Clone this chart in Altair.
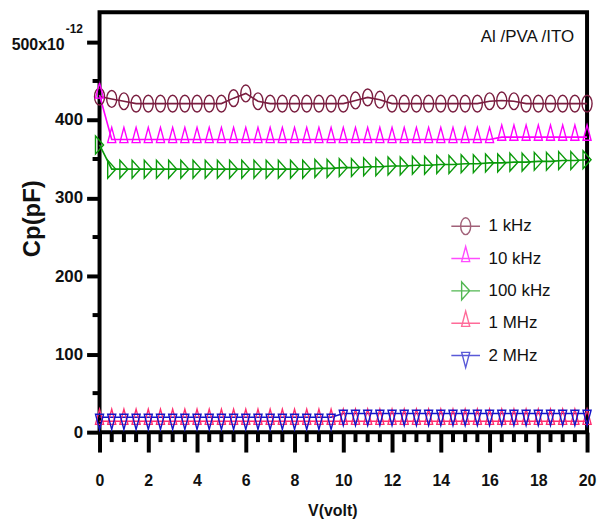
import altair as alt
import pandas as pd

# ---------------- data ----------------
series = ["1 kHz", "10 kHz", "100 kHz", "1 MHz", "2 MHz"]

volts = [0, 0.5, 1, 1.5, 2, 2.5, 3, 3.5, 4, 4.5, 5, 5.5, 6, 6.5, 7, 7.5, 8, 8.5,
         9, 9.5, 10, 10.5, 11, 11.5, 12, 12.5, 13, 13.5, 14, 14.5, 15, 15.5,
         16, 16.5, 17, 17.5, 18, 18.5, 19, 19.5, 20]

cp_1khz = [430, 427, 424, 421, 421, 421, 421, 421, 421, 421, 421, 428, 434, 424,
           421, 421, 421, 421, 421, 421, 421, 425, 429, 426, 421, 421, 421, 421,
           421, 421, 421, 421, 424, 425, 424, 421, 421, 421, 421, 421, 421]
cp_10khz = [432, 375, 375, 375, 375, 375, 375, 375, 375, 375, 375, 375, 375, 375,
            375, 375, 375, 375, 375, 375, 375, 375, 375, 375, 375, 375, 375, 375,
            375, 375, 375, 375, 375, 378, 378, 378, 378, 378, 378, 378, 378]
cp_100khz = [368, 337, 337, 337, 337, 337, 337, 337, 337, 337, 337, 337, 337, 337,
             337, 337, 337, 337, 338, 338, 339, 339, 340, 340, 341, 341, 342, 342,
             343, 343, 344, 344, 345, 345, 346, 346, 347, 347, 348, 348, 349]
cp_1mhz = [14, 14, 14, 14, 14, 14, 14, 14, 14, 14, 14, 14, 14, 14, 14, 14, 14, 14,
           14, 14, 14, 14, 14, 14, 14, 14, 14, 14, 14, 14, 14, 14, 14, 14, 14, 14,
           14, 14, 14, 14, 14]
cp_2mhz = [19, 19, 19, 19, 19, 19, 19, 19, 19, 19, 19, 19, 19, 19, 19, 19, 19, 19,
           19, 19, 24, 24, 24, 24, 24, 24, 24, 24, 24, 24, 24, 24, 24, 24, 24, 24,
           24, 24, 24, 24, 24]

x_major = [0, 2, 4, 6, 8, 10, 12, 14, 16, 18, 20]
x_minor = [0.5, 1, 1.5, 2.5, 3, 3.5, 4.5, 5, 5.5, 6.5, 7, 7.5, 8.5, 9, 9.5,
           10.5, 11, 11.5, 12.5, 13, 13.5, 14.5, 15, 15.5, 16.5, 17, 17.5,
           18.5, 19, 19.5]
y_major = [0, 100, 200, 300, 400, 500]
y_minor = [50, 150, 250, 350, 450]

sample_title = "Al /PVA /ITO"

# ---------------- styling ----------------
colors = ["#7a1e40", "#ff00ff", "#0a9a0a", "#ff2d6f", "#1414c8"]
marker_paths = [
    "M-0.56,0A0.56,0.94,0,1,0,0.56,0A0.56,0.94,0,1,0,-0.56,0Z",
    "M0,-1.35L-0.45,0.35L0.45,0.35Z",
    "M-0.45,-1L0.45,0L-0.45,1Z",
    "M0,-1.35L-0.45,0.35L0.45,0.35Z",
    "M-0.45,-0.35L0.45,-0.35L0,1.35Z",
]
# legend glyph = line through the marker; trailing moves give every glyph the same box
legend_paths = ["M-1.6,0L1.6,0" + p + "M0,-1.4M0,1.4" for p in marker_paths]

FONT = "Liberation Sans, Arial, sans-serif"

rows = []
for s, vals in zip(series, [cp_1khz, cp_10khz, cp_100khz, cp_1mhz, cp_2mhz]):
    for v, c in zip(volts, vals):
        rows.append({"series": s, "V": v, "Cp": c})
df = pd.DataFrame(rows)

W, H = 490, 422

x_enc = alt.X(
    "V:Q",
    scale=alt.Scale(domain=[0, 20], nice=False, zero=False),
    axis=alt.Axis(
        values=x_major, title="V(volt)", grid=False, domain=False,
        tickSize=20, tickWidth=4, tickColor="black",
        labelFont=FONT, labelFontSize=16, labelFontWeight="bold",
        labelColor="#111", labelPadding=21, labelOverlap=False, labelFlush=False,
        titleFont=FONT, titleFontSize=16, titleFontWeight="bold", titleColor="#111",
        titleX=234, titleY=79, titleAlign="center", titleBaseline="middle",
    ),
)
y_enc = alt.Y(
    "Cp:Q",
    scale=alt.Scale(domain=[0, 538], nice=False, zero=False),
    axis=alt.Axis(
        values=y_major, title="Cp(pF)", grid=False, domain=False,
        labelExpr="datum.value == 500 ? '' : datum.label",
        tickSize=13, tickWidth=4, tickColor="black",
        labelFont=FONT, labelFontSize=17, labelFontWeight="bold",
        labelColor="#111", labelPadding=4, labelOverlap=False, labelFlush=False,
        titleFont=FONT, titleFontSize=24,
        titleFontWeight="bold", titleColor="#111",
        titleAngle=270, titleX=-67, titleY=207, titleAlign="center",
        titleBaseline="middle",
    ),
)

color_noleg = alt.Color("series:N", scale=alt.Scale(domain=series, range=colors), legend=None)

base = alt.Chart(df)

lines = base.mark_line(strokeWidth=1.6).encode(
    x=x_enc, y=y_enc, color=color_noleg, detail="series:N"
)

points = base.mark_point(filled=False, size=324, strokeWidth=1.4, opacity=1).encode(
    x=x_enc, y=y_enc, color=color_noleg,
    shape=alt.Shape("series:N", scale=alt.Scale(domain=series, range=marker_paths), legend=None),
)

leg = alt.Legend(title=None, orient="none", legendX=358, legendY=205,
                 symbolSize=324, symbolStrokeWidth=1.4,
                 labelFont=FONT, labelFontSize=17, labelColor="#111",
                 labelOffset=13, rowPadding=0.5, padding=0)

legend_layer = base.transform_filter("false").mark_point(filled=False, size=324, strokeWidth=1.4).encode(
    x=x_enc, y=y_enc,
    color=alt.Color("series:N", scale=alt.Scale(domain=series, range=colors), legend=leg),
    shape=alt.Shape("series:N", scale=alt.Scale(domain=series, range=legend_paths), legend=leg),
)

xminor = alt.Chart(pd.DataFrame({"V": x_minor})).mark_rule(strokeWidth=4, color="black").encode(
    x="V:Q", y=alt.value(H), y2=alt.value(H + 10)
)
yminor = alt.Chart(pd.DataFrame({"Cp": y_minor})).mark_rule(strokeWidth=4, color="black").encode(
    y="Cp:Q", x=alt.value(-7), x2=alt.value(0)
)

exp_df = pd.DataFrame({"Cp": [500], "base": ["500x10"], "exp": ["-12"]})
lab500 = alt.Chart(exp_df).mark_text(
    align="right", baseline="middle", dy=3, font=FONT, fontSize=16, fontWeight="bold", color="#111"
).encode(y="Cp:Q", x=alt.value(-35), text="base:N")
labexp = alt.Chart(exp_df).mark_text(
    align="left", baseline="middle", dy=-13, font=FONT, fontSize=12, fontWeight="bold", color="#111"
).encode(y="Cp:Q", x=alt.value(-34), text="exp:N")

title_txt = alt.Chart(pd.DataFrame({"t": [sample_title]})).mark_text(
    align="right", baseline="middle", font=FONT, fontSize=17, color="#111"
).encode(x=alt.value(477), y=alt.value(25), text="t:N")

chart = alt.layer(
    lines, points, legend_layer, xminor, yminor, lab500, labexp, title_txt
).resolve_scale(color="independent", shape="independent").properties(
    width=W, height=H,
    padding={"left": 92, "top": 3, "right": 10, "bottom": 90},
    autosize=alt.AutoSizeParams(type="none"),
).configure_view(stroke="black", strokeWidth=4)

chart.save("out.html", embed_options={"renderer": "svg", "actions": False})
